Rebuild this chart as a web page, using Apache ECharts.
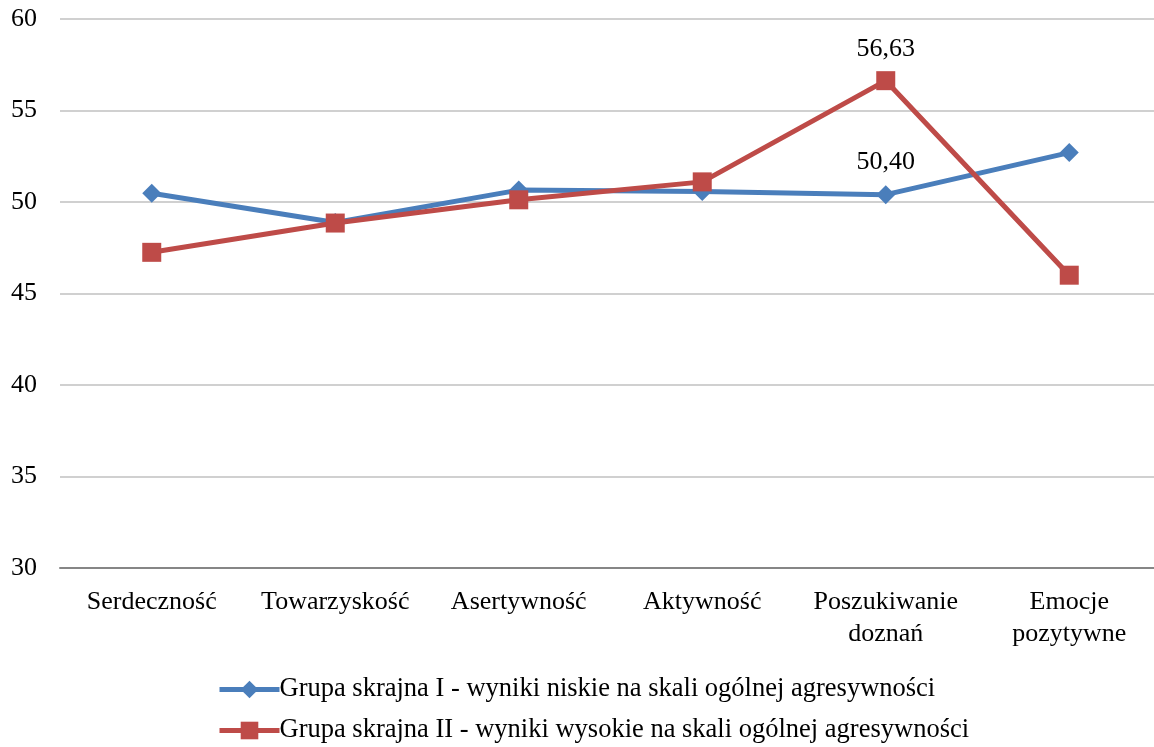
<!DOCTYPE html>
<html>
<head>
<meta charset="utf-8">
<script src="https://cdn.jsdelivr.net/npm/echarts@6/dist/echarts.min.js"></script>
<style>
html, body { margin: 0; padding: 0; background: #fff; overflow: hidden; }
#chart { width: 1161px; height: 747px; }
</style>
</head>
<body>
<div id="chart"></div>
<script>
const categories = ['Serdeczność', 'Towarzyskość', 'Asertywność', 'Aktywność', 'Poszukiwanie\ndoznań', 'Emocje\npozytywne'];
const group1 = [50.48, 48.88, 50.65, 50.58, 50.40, 52.70];
const group2 = [47.25, 48.85, 50.12, 51.10, 56.63, 46.00];
const seriesNames = ['Grupa skrajna I - wyniki niskie na skali ogólnej agresywności',
                     'Grupa skrajna II - wyniki wysokie na skali ogólnej agresywności'];
const labeledIndex = 4;
const yTicks = { min: 30, max: 60, interval: 5 };

const fontFamily = '"Liberation Serif", "DejaVu Serif", serif';

function fmt(v) {
    return v.toFixed(2).replace('.', ',');
}

function legendFor(name, top) {
    return {
        left: 212,
        top: top,
        itemWidth: 60,
        itemHeight: 22,
        itemGap: 0,
        lineStyle: { width: 5 },
        textStyle: { fontFamily: fontFamily, fontSize: 26.5, color: '#000', padding: [0, 0, 0, -5] },
        data: [name]
    };
}

const chart = echarts.init(document.getElementById('chart'));
chart.setOption({
    backgroundColor: '#fff',
    animation: false,
    textStyle: { fontFamily: fontFamily },
    grid: { left: 60, top: 19, right: 0, height: 549 },
    legend: [legendFor(seriesNames[0], 671), legendFor(seriesNames[1], 712)],
    xAxis: {
        type: 'category',
        data: categories,
        axisLine: { lineStyle: { color: '#868686', width: 2 } },
        axisTick: { show: false },
        axisLabel: { interval: 0, color: '#000', fontSize: 26, fontFamily: fontFamily, margin: 18, lineHeight: 32 }
    },
    yAxis: {
        type: 'value',
        min: yTicks.min,
        max: yTicks.max,
        interval: yTicks.interval,
        axisLine: { show: false },
        axisTick: { show: false },
        axisLabel: { color: '#000', fontSize: 26, fontFamily: fontFamily, margin: 23 },
        splitLine: { lineStyle: { color: '#c0c0c0', width: 1.5 } }
    },
    series: [
        {
            name: seriesNames[0],
            type: 'line',
            data: group1,
            symbol: 'diamond',
            symbolSize: 19,
            lineStyle: { color: '#4a7ebb', width: 5 },
            itemStyle: { color: '#4a7ebb' },
            label: {
                show: true,
                position: 'top',
                distance: 10,
                color: '#000',
                fontSize: 26,
                fontFamily: fontFamily,
                formatter: p => p.dataIndex === labeledIndex ? fmt(p.value) : ''
            }
        },
        {
            name: seriesNames[1],
            type: 'line',
            data: group2,
            symbol: 'rect',
            symbolSize: 19,
            lineStyle: { color: '#be4b48', width: 5 },
            itemStyle: { color: '#be4b48' },
            label: {
                show: true,
                position: 'top',
                distance: 9,
                color: '#000',
                fontSize: 26,
                fontFamily: fontFamily,
                formatter: p => p.dataIndex === labeledIndex ? fmt(p.value) : ''
            }
        }
    ]
});
</script>
</body>
</html>
